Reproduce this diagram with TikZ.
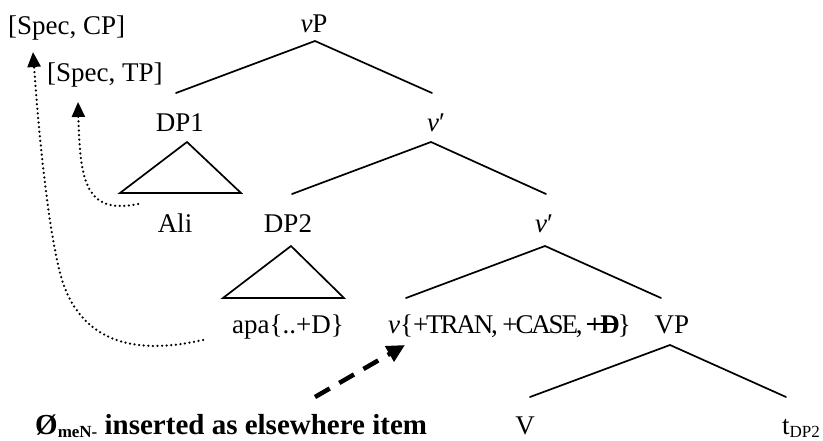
\documentclass[tikz,border=0pt]{standalone}
\usepackage{fontspec}
\setmainfont{Liberation Serif}
\usetikzlibrary{arrows.meta,calc}

% feature struck through by a horizontal bar
\newcommand\struckout[1]{\setbox0=\hbox{#1}\rlap{\copy0}\rule[0.3em]{\wd0}{0.07em}}
% italic v with a prime
\newcommand\vbar{\textit{v}\char"2032}

\begin{document}
\begin{tikzpicture}[x=1pt,y=-1pt,
  lbl/.style={inner sep=0pt, font=\fontsize{27}{32}\selectfont},
  branch/.style={line width=1.7pt, line cap=round},
  move/.style={line width=2.5pt, dash pattern=on 0pt off 4.6pt, line cap=round,
    -{Triangle[length=15pt,width=13pt]}},
  insert/.style={line width=4.5pt, dash pattern=on 17pt off 11pt,
    -{Triangle[length=18pt,width=17pt]}}]

\useasboundingbox (0,0) rectangle (823,441);

% labels
\node[lbl,anchor=base west] (cp) at (8,35) {[Spec, CP]};
\node[lbl,anchor=base west] (tp) at (47,82) {[Spec, TP]};
\node[lbl,anchor=base] (vP) at (314,33) {\textit{v}P};
\node[lbl,anchor=base] (dp1) at (180,132) {DP1};
\node[lbl,anchor=base west] (vbar1) at (427,132) {\vbar};
\node[lbl,anchor=base] (ali) at (175,233) {Ali};
\node[lbl,anchor=base] (dp2) at (288,233) {DP2};
\node[lbl,anchor=base west] (vbar2) at (535,233) {\vbar};
\node[lbl,anchor=base west] (apa) at (232,333) {apa\{..+D\}};
\node[lbl,anchor=base west] (vhead) at (388,333)
  {\textit{v}\{{\addfontfeature{LetterSpace=-8}+TRAN, +CASE, \struckout{\textbf{+D}}}\}};
\node[lbl,anchor=base] (VP) at (672,334) {VP};
\node[lbl,anchor=base] (V) at (525,434) {V};
\node[lbl,anchor=base west] (trace) at (782,434)
  {t\raisebox{-3.5pt}{\fontsize{17}{19}\selectfont DP2}};
\node[inner sep=0pt,anchor=base west,font=\fontsize{29}{32}\selectfont\bfseries] (note) at (35,434)
  {Ø\raisebox{-3.5pt}{\fontsize{17}{18}\selectfont meN-} inserted as elsewhere item};

% branch points
\coordinate (vP-top) at (315,41);
\coordinate (vP-l) at (176,93);
\coordinate (vP-r) at (432,93);
\coordinate (vb1-top) at (431,142);
\coordinate (vb1-l) at (292,194);
\coordinate (vb1-r) at (546,194);
\coordinate (vb2-top) at (545,246);
\coordinate (vb2-l) at (406,298);
\coordinate (vb2-r) at (661,298);
\coordinate (VP-top) at (670,345);
\coordinate (VP-l) at (530,397);
\coordinate (VP-r) at (786,397);

\draw[branch] (vP-l) -- (vP-top) -- (vP-r);
\draw[branch] (vb1-l) -- (vb1-top) -- (vb1-r);
\draw[branch] (vb2-l) -- (vb2-top) -- (vb2-r);
\draw[branch] (VP-l) -- (VP-top) -- (VP-r);

% triangles for the DPs
\draw[branch, line join=miter] (187,142) -- (120,193) -- (241,193) -- cycle;
\draw[branch, line join=miter] (291,246) -- (223,298) -- (344,298) -- cycle;

% movement arrows
\coordinate (ali-from) at (138,204);
\coordinate (tp-tip) at (78,102);
\coordinate (apa-from) at (203,340);
\coordinate (cp-tip) at (33,52);
\draw[move] (ali-from) .. controls (85,215) and (80,180) .. (tp-tip);
\draw[move] (apa-from) .. controls (150,352) and (85,352) .. (62,280)
  .. controls (50,240) and (40,150) .. (cp-tip);

% insertion arrow
\coordinate (ins-from) at (315,397);
\coordinate (ins-to) at (405,345);
\draw[insert] (ins-from) -- (ins-to);
\end{tikzpicture}
\end{document}
